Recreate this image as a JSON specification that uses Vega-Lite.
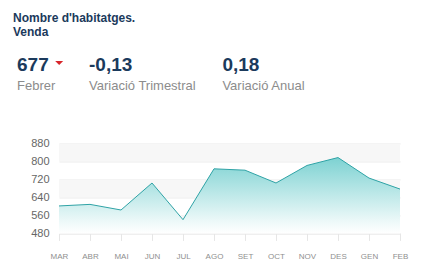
{
  "$schema": "https://vega.github.io/schema/vega-lite/v6.json",
  "padding": {"left": 13, "top": 12, "right": 5, "bottom": 5},
  "bounds": "flush",
  "spacing": 40.4,
  "config": {
    "font": "Liberation Sans",
    "view": {"stroke": null},
    "axisY": {"labelOverlap": false, "grid": true, "gridColor": "#e6e6e6", "domain": false, "ticks": false, "labelFontSize": 11, "labelColor": "#666666", "labelPadding": 10, "title": null, "zindex": 1}
  },
  "title": {
    "text": ["Nombre d'habitatges.", "Venda"],
    "anchor": "start",
    "frame": "group",
    "fontSize": 12,
    "fontWeight": "bold",
    "lineHeight": 14,
    "color": "#1b3a5c",
    "dx": -46,
    "offset": 4
  },
  "datasets": {
    "kpi": [
      {"k": "m", "valor": "677", "etiqueta": "Febrer"},
      {"k": "t", "valor": "-0,13", "etiqueta": "Variació Trimestral"},
      {"k": "a", "valor": "0,18", "etiqueta": "Variació Anual"}
    ],
    "serie": [
      {"mes": "MAR", "valor": 602},
      {"mes": "ABR", "valor": 609},
      {"mes": "MAI", "valor": 584},
      {"mes": "JUN", "valor": 704},
      {"mes": "JUL", "valor": 541},
      {"mes": "AGO", "valor": 767},
      {"mes": "SET", "valor": 761},
      {"mes": "OCT", "valor": 704},
      {"mes": "NOV", "valor": 782},
      {"mes": "DES", "valor": 817},
      {"mes": "GEN", "valor": 726},
      {"mes": "FEB", "valor": 677}
    ],
    "bandes": [
      {"inici": 800, "fi": 880},
      {"inici": 640, "fi": 720},
      {"inici": 480, "fi": 560}
    ]
  },
  "vconcat": [
    {
      "width": 341,
      "height": 60,
      "data": {"name": "kpi"},
      "layer": [
        {
          "transform": [{"filter": "datum.k !== 't'"}],
          "mark": {"type": "text", "align": "left", "baseline": "alphabetic", "fontSize": 19, "fontWeight": "bold", "color": "#1b3a5c"},
          "encoding": {
            "x": {"field": "k", "type": "nominal", "scale": {"type": "point", "padding": 0, "domain": ["m", "t", "a"], "range": [-42, 163.4]}, "axis": null},
            "y": {"datum": "valor", "type": "nominal", "scale": {"type": "point", "padding": 0, "domain": ["valor", "etiqueta"], "range": [27.9, 47.4]}, "axis": null},
            "text": {"field": "valor"}
          }
        },
        {
          "transform": [{"filter": "datum.k === 't'"}],
          "mark": {"type": "text", "align": "left", "baseline": "alphabetic", "fontSize": 19, "fontWeight": "bold", "color": "#1b3a5c", "dx": -30.7},
          "encoding": {
            "x": {"field": "k", "type": "nominal", "axis": null},
            "y": {"datum": "valor", "type": "nominal", "axis": null},
            "text": {"field": "valor"}
          }
        },
        {
          "transform": [{"filter": "datum.k !== 't'"}],
          "mark": {"type": "text", "align": "left", "baseline": "alphabetic", "fontSize": 13, "color": "#8c8c8c"},
          "encoding": {
            "x": {"field": "k", "type": "nominal", "axis": null},
            "y": {"datum": "etiqueta", "type": "nominal", "axis": null},
            "text": {"field": "etiqueta"}
          }
        },
        {
          "transform": [{"filter": "datum.k === 't'"}],
          "mark": {"type": "text", "align": "left", "baseline": "alphabetic", "fontSize": 13, "color": "#8c8c8c", "dx": -30.7},
          "encoding": {
            "x": {"field": "k", "type": "nominal", "axis": null},
            "y": {"datum": "etiqueta", "type": "nominal", "axis": null},
            "text": {"field": "etiqueta"}
          }
        },
        {
          "transform": [{"filter": "datum.k === 'm'"}],
          "mark": {"type": "point", "shape": "M 9.55,-2.5 L 11.55,-2.5 L 10.55,-1.5 Z", "size": 64, "filled": true, "color": "#d7262b", "opacity": 1},
          "encoding": {
            "x": {"field": "k", "type": "nominal", "axis": null},
            "y": {"datum": "valor", "type": "nominal", "axis": null}
          }
        }
      ]
    },
    {
      "width": 341,
      "height": 90,
      "layer": [
        {
          "data": {"name": "bandes"},
          "mark": {"type": "rect", "color": "#f7f7f7"},
          "encoding": {
            "y": {"field": "inici", "type": "quantitative", "scale": {"domain": [480, 880], "zero": false, "nice": false},
              "axis": {"values": [480, 560, 640, 720, 800, 880]}},
            "y2": {"field": "fi"}
          }
        },
        {
          "data": {"name": "serie"},
          "mark": {
            "type": "area",
            "color": {
              "gradient": "linear", "x1": 0, "y1": 0, "x2": 0, "y2": 1,
              "stops": [{"offset": 0, "color": "#7dd2d2"}, {"offset": 0.85, "color": "#eef9f9"}, {"offset": 1, "color": "#ffffff"}]
            }
          },
          "encoding": {
            "x": {"field": "mes", "type": "nominal", "sort": null, "scale": {"type": "point", "padding": 0},
              "axis": {"title": null, "labelAngle": 0, "labelFontSize": 8, "labelColor": "#8f8f8f", "domainColor": "#e6e6e6", "tickColor": "#e6e6e6", "tickSize": 7, "labelPadding": 12}},
            "y": {"field": "valor", "type": "quantitative", "axis": {"values": [480, 560, 640, 720, 800, 880]}},
            "y2": {"datum": 480}
          }
        },
        {
          "data": {"name": "serie"},
          "mark": {"type": "line", "color": "#2fa3a6", "strokeWidth": 1},
          "encoding": {
            "x": {"field": "mes", "type": "nominal", "sort": null},
            "y": {"field": "valor", "type": "quantitative", "axis": {"values": [480, 560, 640, 720, 800, 880]}}
          }
        }
      ]
    }
  ]
}
